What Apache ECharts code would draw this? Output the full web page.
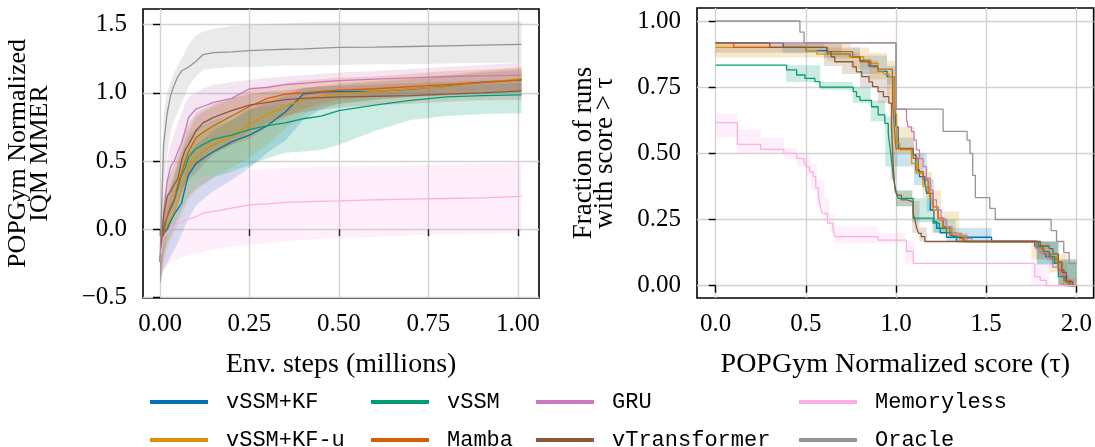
<!DOCTYPE html>
<html><head><meta charset="utf-8">
<script src="https://cdn.jsdelivr.net/npm/echarts@6/dist/echarts.min.js"></script>
<style>html,body{margin:0;padding:0;background:#fff}#c{width:1095px;height:447px}</style>
</head><body><div id="c"></div>
<script>
// ---------- Left panel: IQM over env steps ----------
const LX = [0,0.01,0.02,0.03,0.04,0.05,0.06,0.07,0.08,0.1,0.12,0.15,0.2,0.25,0.3,0.35,0.4,0.45,0.5,0.6,0.7,0.8,0.9,1.01];

const KF_mean = [-0.237,-0.03,0.0,0.06,0.11,0.15,0.19,0.3,0.4,0.48,0.52,0.57,0.64,0.69,0.76,0.86,0.99,1.005,1.01,1.01,1.027,1.05,1.078,1.095];
const KF_lo   = [-0.4,-0.3,-0.25,-0.2,-0.15,-0.1,-0.04,0.02,0.08,0.17,0.22,0.28,0.36,0.45,0.56,0.65,0.8,0.88,0.92,0.95,0.97,0.98,0.99,1.0];
const KF_hi   = [-0.1,0.1,0.15,0.22,0.28,0.33,0.38,0.46,0.55,0.62,0.66,0.72,0.8,0.875,0.93,0.98,1.04,1.05,1.06,1.08,1.1,1.12,1.15,1.17];

const KFu_mean = [-0.237,-0.02,0.03,0.08,0.13,0.2,0.28,0.36,0.46,0.52,0.57,0.62,0.68,0.77,0.84,0.9,0.95,0.98,0.99,1.01,1.03,1.045,1.075,1.105];
const KFu_lo   = [-0.4,-0.25,-0.15,-0.08,-0.02,0.05,0.1,0.16,0.22,0.28,0.32,0.38,0.45,0.52,0.62,0.74,0.84,0.9,0.92,0.95,0.97,0.985,1.0,1.01];
const KFu_hi   = [-0.1,0.1,0.18,0.25,0.32,0.4,0.47,0.55,0.6,0.66,0.7,0.75,0.8,0.88,0.95,1.0,1.03,1.05,1.07,1.09,1.11,1.13,1.16,1.19];

const SSM_mean = [-0.237,0.02,0.09,0.15,0.21,0.3,0.4,0.45,0.53,0.59,0.62,0.66,0.69,0.73,0.76,0.78,0.81,0.83,0.87,0.91,0.945,0.97,0.98,0.985];
const SSM_lo   = [-0.4,-0.2,-0.1,-0.05,0.02,0.08,0.14,0.2,0.24,0.3,0.33,0.38,0.42,0.47,0.52,0.56,0.57,0.58,0.62,0.72,0.8,0.83,0.845,0.85];
const SSM_hi   = [-0.1,0.15,0.25,0.32,0.4,0.48,0.56,0.62,0.68,0.74,0.76,0.8,0.84,0.88,0.9,0.92,0.95,0.97,1.0,1.02,1.04,1.05,1.06,1.07];

const MAM_mean = [-0.237,-0.03,0.09,0.17,0.22,0.33,0.41,0.5,0.57,0.67,0.71,0.76,0.83,0.9,0.96,0.99,1.0,1.01,1.02,1.03,1.045,1.06,1.075,1.095];
const MAM_lo   = [-0.4,-0.2,-0.05,0.05,0.12,0.2,0.27,0.33,0.38,0.46,0.5,0.56,0.62,0.66,0.75,0.82,0.88,0.92,0.95,0.97,0.99,1.0,1.01,1.02];
const MAM_hi   = [-0.1,0.1,0.22,0.32,0.4,0.5,0.58,0.66,0.72,0.82,0.86,0.9,0.96,1.02,1.05,1.07,1.09,1.1,1.11,1.12,1.14,1.16,1.17,1.18];

const GRU_mean = [-0.237,0.1,0.35,0.46,0.5,0.57,0.63,0.72,0.82,0.88,0.9,0.93,0.96,1.03,1.04,1.06,1.07,1.08,1.09,1.1,1.11,1.12,1.125,1.13];
const GRU_lo   = [-0.4,-0.1,0.1,0.2,0.3,0.4,0.48,0.55,0.62,0.7,0.74,0.78,0.84,0.87,0.9,0.92,0.94,0.95,0.96,0.97,0.98,0.99,1.0,1.0];
const GRU_hi   = [-0.1,0.3,0.5,0.62,0.7,0.78,0.85,0.92,0.97,1.0,1.03,1.06,1.08,1.095,1.11,1.12,1.13,1.14,1.15,1.16,1.175,1.19,1.205,1.22];

const VT_mean = [-0.237,0.1,0.24,0.28,0.33,0.37,0.5,0.58,0.62,0.72,0.78,0.82,0.87,0.91,0.93,0.95,0.96,0.965,0.97,0.975,0.98,0.99,1.0,1.015];
const VT_lo   = [-0.4,-0.1,0.05,0.1,0.15,0.2,0.28,0.33,0.37,0.41,0.47,0.55,0.62,0.72,0.78,0.83,0.86,0.875,0.89,0.91,0.92,0.935,0.945,0.95];
const VT_hi   = [-0.1,0.22,0.36,0.42,0.48,0.54,0.64,0.72,0.77,0.85,0.88,0.92,0.96,0.99,1.01,1.02,1.035,1.045,1.05,1.06,1.07,1.08,1.09,1.095];

const MEM_mean = [-0.237,-0.06,-0.03,0.0,0.02,0.04,0.05,0.065,0.073,0.09,0.117,0.13,0.154,0.178,0.185,0.196,0.2,0.205,0.208,0.215,0.22,0.225,0.23,0.24];
const MEM_lo   = [-0.42,-0.3,-0.27,-0.25,-0.23,-0.22,-0.21,-0.2,-0.19,-0.18,-0.17,-0.15,-0.13,-0.115,-0.1,-0.09,-0.08,-0.07,-0.065,-0.055,-0.045,-0.04,-0.035,-0.03];
const MEM_hi   = [-0.1,0.1,0.18,0.22,0.26,0.29,0.31,0.33,0.35,0.37,0.39,0.4,0.42,0.435,0.44,0.45,0.455,0.46,0.46,0.465,0.47,0.475,0.48,0.485];

const ORA_mean = [-0.23,0.62,0.85,0.985,1.06,1.12,1.16,1.175,1.19,1.23,1.28,1.295,1.3,1.31,1.315,1.32,1.322,1.328,1.333,1.336,1.34,1.345,1.35,1.355];
const ORA_lo   = [-0.4,0.3,0.55,0.72,0.8,0.86,0.92,0.98,1.05,1.12,1.17,1.18,1.19,1.19,1.195,1.2,1.2,1.2,1.205,1.21,1.21,1.215,1.22,1.22];
const ORA_hi   = [-0.1,0.85,1.0,1.08,1.15,1.2,1.25,1.3,1.35,1.42,1.45,1.47,1.49,1.5,1.505,1.51,1.515,1.52,1.52,1.52,1.52,1.525,1.525,1.525];

// ---------- Right panel: performance profiles (step, value holds until next x) ----------
const R_KF = [[0,0.917],[0.375,0.9],[0.5,0.888],[0.62,0.875],[0.744,0.865],[0.8,0.85],[0.85,0.83],[0.9,0.81],[0.95,0.79],[0.99,0.7],[1.0,0.6],[1.012,0.519],[1.095,0.494],[1.11,0.437],[1.13,0.412],[1.16,0.387],[1.17,0.349],[1.19,0.286],[1.21,0.242],[1.225,0.217],[1.245,0.2],[1.28,0.183],[1.53,0.167],[1.769,0.148],[1.8,0.125],[1.83,0.11],[1.87,0.085],[1.9,0.06],[1.93,0.03],[1.95,0.0],[2.0,0.0]];
const R_KFu = [[0,0.9],[0.5,0.888],[0.56,0.875],[0.74,0.865],[0.82,0.853],[0.86,0.84],[0.9,0.808],[0.93,0.8],[0.96,0.79],[0.99,0.65],[1.003,0.538],[1.021,0.513],[1.086,0.462],[1.113,0.425],[1.15,0.374],[1.187,0.324],[1.206,0.286],[1.233,0.248],[1.261,0.217],[1.307,0.198],[1.363,0.185],[1.381,0.167],[1.778,0.148],[1.8,0.129],[1.85,0.11],[1.89,0.085],[1.915,0.04],[1.93,0.0],[2.0,0.0]];
const R_SSM = [[0,0.833],[0.393,0.815],[0.449,0.796],[0.495,0.783],[0.55,0.771],[0.578,0.75],[0.763,0.733],[0.781,0.714],[0.8,0.7],[0.864,0.676],[0.901,0.645],[0.938,0.613],[0.957,0.575],[0.966,0.525],[0.975,0.475],[0.984,0.412],[0.994,0.374],[1.003,0.349],[1.012,0.33],[1.095,0.255],[1.206,0.236],[1.24,0.217],[1.28,0.2],[1.31,0.185],[1.335,0.167],[1.79,0.148],[1.815,0.129],[1.85,0.11],[1.88,0.085],[1.9,0.034],[1.94,0.015],[1.96,0.0],[2.0,0.0]];
const R_MAM = [[0,0.917],[0.1,0.9],[0.62,0.884],[0.76,0.865],[0.8,0.846],[0.86,0.827],[0.9,0.818],[0.98,0.7],[0.99,0.6],[1.0,0.517],[1.095,0.481],[1.123,0.431],[1.15,0.4],[1.178,0.349],[1.206,0.298],[1.233,0.255],[1.261,0.223],[1.298,0.19],[1.354,0.179],[1.372,0.167],[1.78,0.14],[1.82,0.12],[1.86,0.1],[1.9,0.06],[1.93,0.02],[1.97,0.0],[2.0,0.0]];
const R_GRU = [[0,0.917],[1.0,0.667],[1.058,0.63],[1.067,0.6],[1.086,0.582],[1.1,0.55],[1.113,0.513],[1.13,0.48],[1.15,0.45],[1.169,0.406],[1.19,0.36],[1.206,0.324],[1.224,0.286],[1.25,0.25],[1.28,0.223],[1.31,0.2],[1.335,0.19],[1.39,0.179],[1.42,0.167],[1.775,0.14],[1.8,0.125],[1.84,0.1],[1.87,0.07],[1.91,0.04],[1.95,0.0],[2.0,0.0]];
const R_VT = [[0,0.917],[0.3,0.9],[0.615,0.884],[0.64,0.865],[0.66,0.846],[0.761,0.827],[0.78,0.808],[0.81,0.79],[0.85,0.77],[0.87,0.752],[0.9,0.733],[0.93,0.714],[0.96,0.69],[0.975,0.6],[0.985,0.45],[0.995,0.36],[1.005,0.342],[1.03,0.324],[1.06,0.317],[1.095,0.273],[1.105,0.248],[1.115,0.217],[1.125,0.198],[1.14,0.185],[1.16,0.167],[1.8,0.15],[1.85,0.14],[1.87,0.12],[1.9,0.09],[1.92,0.05],[1.945,0.015],[1.98,0.0],[2.0,0.0]];
const R_MEM = [[0,0.616],[0.12,0.534],[0.249,0.515],[0.378,0.5],[0.449,0.481],[0.489,0.468],[0.5,0.45],[0.52,0.43],[0.54,0.412],[0.555,0.37],[0.57,0.336],[0.58,0.3],[0.59,0.273],[0.62,0.236],[0.65,0.217],[0.66,0.185],[0.9,0.172],[1.058,0.13],[1.095,0.084],[1.769,0.034],[1.8,0.02],[1.834,0.0],[2.0,0.0]];
const R_ORA = [[0,1.0],[0.467,0.958],[0.49,0.917],[1.0,0.667],[1.261,0.583],[1.394,0.55],[1.41,0.5],[1.425,0.417],[1.44,0.333],[1.52,0.292],[1.55,0.25],[1.86,0.208],[1.89,0.167],[1.93,0.125],[1.96,0.083],[2.0,0.083]];

// right panel confidence bands: [x, low, high] (step)
const RB_KF  = [[0,0.917,0.917],[0.37,0.88,0.917],[0.6,0.86,0.9],[0.8,0.8,0.87],[0.95,0.76,0.83],[1.0,0.45,0.56],[1.1,0.38,0.5],[1.17,0.28,0.4],[1.21,0.2,0.26],[1.28,0.167,0.218],[1.53,0.167,0.167],[1.78,0.08,0.167],[1.9,0,0.09],[2.0,0,0]];
const RB_KFu = [[0,0.862,0.917],[0.62,0.85,0.917],[0.75,0.82,0.9],[0.85,0.78,0.88],[0.95,0.72,0.85],[1.0,0.5,0.6],[1.1,0.42,0.5],[1.15,0.33,0.43],[1.2,0.26,0.36],[1.25,0.2,0.28],[1.35,0.167,0.2],[1.4,0.167,0.167],[1.75,0.1,0.167],[1.85,0.05,0.12],[1.95,0,0.03],[2.0,0,0]];
const RB_SSM = [[0,0.833,0.833],[0.39,0.77,0.833],[0.58,0.74,0.77],[0.76,0.69,0.75],[0.86,0.62,0.7],[0.94,0.45,0.64],[1.0,0.3,0.36],[1.09,0.24,0.33],[1.2,0.2,0.25],[1.33,0.167,0.19],[1.4,0.167,0.167],[1.78,0.08,0.167],[1.9,0.0,0.1],[2.0,0,0]];
const RB_VT  = [[0,0.88,0.917],[0.6,0.83,0.917],[0.7,0.8,0.88],[0.8,0.75,0.85],[0.9,0.69,0.8],[0.97,0.4,0.72],[1.0,0.3,0.36],[1.09,0.2,0.32],[1.13,0.167,0.22],[1.17,0.167,0.167],[1.78,0.1,0.167],[1.9,0.0,0.1],[2.0,0,0]];
const RB_MEM = [[0,0.56,0.65],[0.12,0.5,0.59],[0.25,0.5,0.56],[0.38,0.48,0.52],[0.45,0.45,0.5],[0.5,0.42,0.49],[0.53,0.36,0.46],[0.56,0.3,0.4],[0.6,0.24,0.33],[0.63,0.2,0.27],[0.66,0.16,0.225],[0.9,0.16,0.2],[1.05,0.084,0.172],[1.1,0.084,0.084],[1.75,0.0,0.084],[1.85,0,0],[2.0,0,0]];

// ---------- names, colours, ticks ----------
const NAMES  = ['vSSM+KF','vSSM+KF-u','vSSM','Mamba','GRU','vTransformer','Memoryless','Oracle'];
const COLORS = ['#0173b2','#de8f05','#029e73','#d55e00','#cc78bc','#8c5a3a','#fbafe4','#949494'];
const L_XTICKS = [0,0.25,0.5,0.75,1.0];
const L_XLABELS = ['0.00','0.25','0.50','0.75','1.00'];
const L_YTICKS = [-0.5,0,0.5,1.0,1.5];
const L_YLABELS = ['\u22120.5','0.0','0.5','1.0','1.5'];
const R_XTICKS = [0,0.5,1.0,1.5,2.0];
const R_XLABELS = ['0.0','0.5','1.0','1.5','2.0'];
const R_YTICKS = [0,0.25,0.5,0.75,1.0];
const R_YLABELS = ['0.00','0.25','0.50','0.75','1.00'];

const LEFT = [
  [KF_mean,KF_lo,KF_hi],[KFu_mean,KFu_lo,KFu_hi],[SSM_mean,SSM_lo,SSM_hi],[MAM_mean,MAM_lo,MAM_hi],
  [GRU_mean,GRU_lo,GRU_hi],[VT_mean,VT_lo,VT_hi],[MEM_mean,MEM_lo,MEM_hi],[ORA_mean,ORA_lo,ORA_hi]
];
const RIGHT = [R_KF,R_KFu,R_SSM,R_MAM,R_GRU,R_VT,R_MEM,R_ORA];
const RIGHT_BANDS = {'vSSM+KF':RB_KF,'vSSM+KF-u':RB_KFu,'vSSM':RB_SSM,'vTransformer':RB_VT,'Memoryless':RB_MEM};

const SERIF = '"Liberation Serif", "DejaVu Serif", serif';
const MONO = '"Liberation Mono", "DejaVu Sans Mono", monospace';

const series = [];
// band drawn as one polygon through the axis scales (api.coord)
function band(name, color, rows, xi, step) {
  const fill = echarts.color.modifyAlpha(color, 0.2);
  series.push({
    type:'custom', name:name+' band', xAxisIndex:xi, yAxisIndex:xi, silent:true, z:1, clip:false,
    encode:{x:0, y:[1,2]}, data:rows,
    renderItem:function(params, api){
      if (params.dataIndex !== 0) return null;
      const top = [], bot = [];
      for (let i = 0; i < rows.length; i++) {
        const [x, lo, hi] = rows[i];
        top.push(api.coord([x, hi])); bot.push(api.coord([x, lo]));
        if (step && i < rows.length - 1) {
          const nx = rows[i+1][0];
          top.push(api.coord([nx, hi])); bot.push(api.coord([nx, lo]));
        }
      }
      return {type:'polygon', shape:{points: top.concat(bot.reverse())}, style:{fill:fill}};
    }
  });
}
NAMES.forEach((n,k)=>{
  const [m,lo,hi] = LEFT[k];
  band(n, COLORS[k], LX.map((x,i)=>[x, lo[i], hi[i]]), 0, false);
});
NAMES.forEach((n,k)=>{
  const b = RIGHT_BANDS[n];
  if (b) band(n, COLORS[k], b, 1, true);
});
NAMES.forEach((n,k)=>{
  const [m] = LEFT[k];
  series.push({type:'line', name:n, xAxisIndex:0, yAxisIndex:0, data: LX.map((x,i)=>[x,m[i]]),
    symbol:'none', showSymbol:false, clip:false, z:3, silent:true, lineStyle:{color:COLORS[k], width:1.3}, itemStyle:{color:COLORS[k]}});
  series.push({type:'line', name:n, xAxisIndex:1, yAxisIndex:1, data: RIGHT[k], step:'end',
    symbol:'none', showSymbol:false, clip:false, z:3, silent:true, lineStyle:{color:COLORS[k], width:1.3}, itemStyle:{color:COLORS[k]}});
});

function axisBase(ticks, labels, margin, extra) {
  return Object.assign({
    type:'value',
    axisLine:{show:false},
    axisTick:{show:true, length:7, customValues:ticks, lineStyle:{color:'#000', width:1.4}},
    axisLabel:{customValues:ticks, color:'#000', fontFamily:SERIF, fontSize:25, margin:margin,
      formatter:(v)=>{ const i = ticks.findIndex(t=>Math.abs(t-v)<1e-9); return i>=0 ? labels[i] : ''; }},
    splitLine:{show:true, lineStyle:{color:'#d3d3d3', width:1.4}},
    nameTextStyle:{color:'#000', fontFamily:SERIF, fontSize:28}
  }, extra);
}

const legendCols = [[0,1],[2,3],[4,5],[6,7]];
const legendLeft = [150,371,536,799];
const legends = legendCols.map((c,i)=>({
  orient:'vertical', left:legendLeft[i], top:391, height:60, padding:0, itemGap:16,
  itemWidth:58, itemHeight:4, icon:'rect', selectedMode:false,
  data:c.map(k=>({name:NAMES[k], itemStyle:{color:COLORS[k]}})),
  textStyle:{fontFamily:MONO, fontSize:22, color:'#000', lineHeight:20, padding:[0,0,0,13]}
}));

const option = {
  animation:false,
  backgroundColor:'#fff',
  grid:[
    {left:143, top:9, width:396, height:289, show:true, borderColor:'#000', borderWidth:1.6, backgroundColor:'transparent'},
    {left:697, top:8, width:397, height:290, show:true, borderColor:'#000', borderWidth:1.6, backgroundColor:'transparent'}
  ],
  xAxis:[
    axisBase(L_XTICKS, L_XLABELS, 14, {gridIndex:0, min:-0.0475, max:1.0587, name:'Env. steps (millions)', nameLocation:'middle', nameGap:53}),
    axisBase(R_XTICKS, R_XLABELS, 14, {gridIndex:1, min:-0.1036, max:2.0958, name:'POPGym Normalized score (\u03c4)', nameLocation:'middle', nameGap:53})
  ],
  yAxis:[
    axisBase(L_YTICKS, L_YLABELS, 16, {gridIndex:0, min:-0.5051, max:1.6152, name:'POPGym Normalized\nIQM MMER', nameLocation:'middle', nameGap:92, nameRotate:90,
      nameTextStyle:{color:'#000', fontFamily:SERIF, fontSize:26, lineHeight:22}}),
    axisBase(R_YTICKS, R_YLABELS, 16, {gridIndex:1, min:-0.0465, max:1.0491, name:'Fraction of runs\nwith score > \u03c4', nameLocation:'middle', nameGap:82, nameRotate:90,
      nameTextStyle:{color:'#000', fontFamily:SERIF, fontSize:27, lineHeight:21}})
  ],
  legend:legends,
  series:series
};
const chart = echarts.init(document.getElementById('c'), null, {renderer:'canvas'});
chart.setOption(option);
</script></body></html>
